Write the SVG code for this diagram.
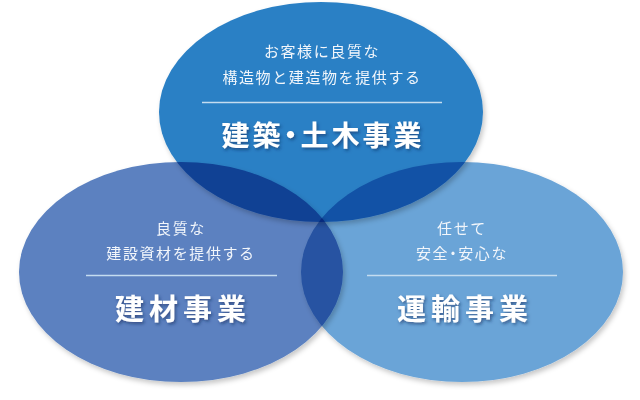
<svg xmlns="http://www.w3.org/2000/svg" width="640" height="400" viewBox="0 0 640 400">
  <defs>
    <filter id="esh" x="-10%" y="-10%" width="120%" height="125%">
      <feDropShadow dx="2" dy="3" stdDeviation="2.5" flood-color="#000" flood-opacity="0.22"/>
    </filter>
    <filter id="tsh" x="-10%" y="-20%" width="120%" height="150%">
      <feDropShadow dx="1.5" dy="2" stdDeviation="1.5" flood-color="#0a2a5a" flood-opacity="0.55"/>
    </filter>
  </defs>
  <style>
    .e { mix-blend-mode: multiply; }
    .sub { font-family: "Noto Sans CJK JP", "Noto Sans", sans-serif; font-size: 15px; fill: #f2f6fb; text-anchor: middle; letter-spacing: 1.6px; }
    .ttl { font-family: "Noto Sans CJK JP", "Noto Sans", sans-serif; font-weight: bold; fill: #ffffff; text-anchor: middle; filter: url(#tsh); }
    .half { font-feature-settings: "halt"; }
    .rule { stroke: #c4dcf0; stroke-width: 1.5; }
  </style>
  <rect width="640" height="400" fill="#ffffff"/>
  <g id="circles" style="isolation: isolate">
    <ellipse id="shape-top" class="e" cx="321" cy="112" rx="162" ry="110" fill="#2b80c5" filter="url(#esh)"/>
    <ellipse id="shape-left" class="e" cx="181" cy="272" rx="162" ry="110" fill="#5b81c0" filter="url(#esh)"/>
    <ellipse id="shape-right" class="e" cx="462" cy="272" rx="161" ry="110" fill="#6ba4d7" filter="url(#esh)"/>
  </g>
  <g id="node-kenchiku">
    <text class="sub" x="322" y="57">お客様に良質な</text>
    <text class="sub" x="322" y="83">構造物と建造物を提供する</text>
    <line class="rule" x1="202" y1="102.5" x2="442" y2="102.5"/>
    <text class="ttl" x="323" y="146" font-size="28" letter-spacing="3">建築<tspan class="half">・</tspan>土木事業</text>
  </g>
  <g id="node-kenzai">
    <text class="sub" x="181" y="234">良質な</text>
    <text class="sub" x="181" y="259">建設資材を提供する</text>
    <line class="rule" x1="86" y1="275.5" x2="277" y2="275.5"/>
    <text class="ttl" x="183" y="320" font-size="29" letter-spacing="5">建材事業</text>
  </g>
  <g id="node-unyu">
    <text class="sub" x="462" y="234">任せて</text>
    <text class="sub" x="462" y="259">安全<tspan class="half">・</tspan>安心な</text>
    <line class="rule" x1="367" y1="275.5" x2="557" y2="275.5"/>
    <text class="ttl" x="465" y="320" font-size="29" letter-spacing="5">運輸事業</text>
  </g>
  <g id="connectors"/>
</svg>
